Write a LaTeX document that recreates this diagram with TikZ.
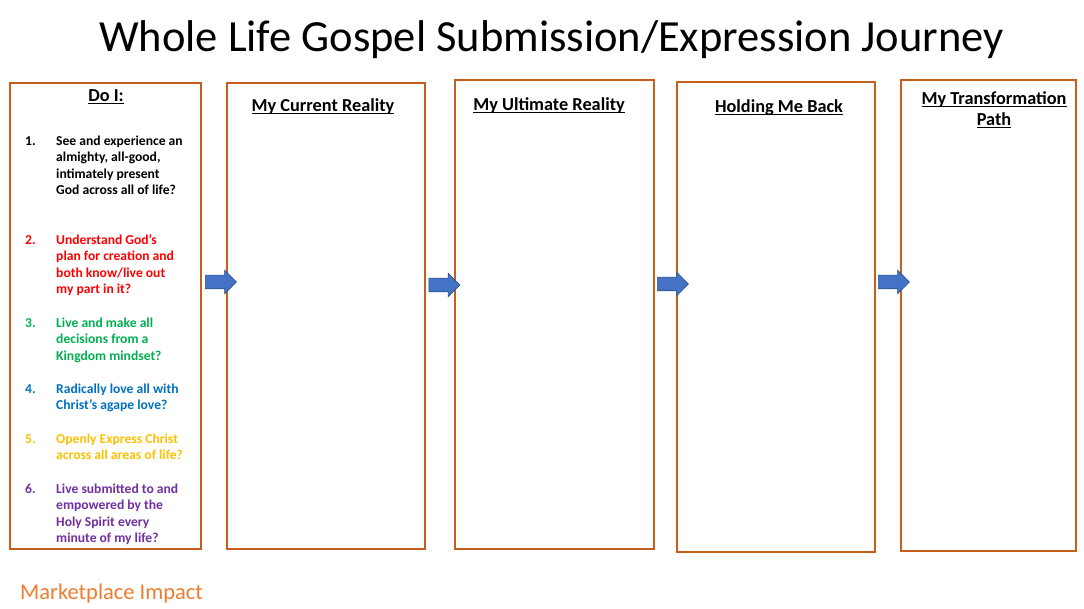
\documentclass[tikz,border=0pt]{standalone}
\usepackage{fontspec}
\setmainfont{Carlito}
\usetikzlibrary{shapes.arrows}
\definecolor{boxor}{RGB}{200,94,28}
\definecolor{arrfill}{RGB}{68,114,196}
\definecolor{arrline}{RGB}{47,82,143}
\definecolor{cred}{RGB}{255,0,0}
\definecolor{cgreen}{RGB}{0,176,80}
\definecolor{cblue}{RGB}{0,112,192}
\definecolor{cgold}{RGB}{255,192,0}
\definecolor{cpurple}{RGB}{112,48,160}
\definecolor{mporange}{RGB}{237,125,49}
\newcommand\myul[1]{\setbox0\hbox{#1}\rlap{\rule[-2.4pt]{\wd0}{1.1pt}}\box0}
\tikzset{
  col/.style={draw=boxor, line width=1.6pt},
  head/.style={font=\bfseries\fontsize{18.3}{21.5}\selectfont, inner sep=0, anchor=base},
  num/.style={font=\bfseries\fontsize{13.6}{16.4}\selectfont, inner sep=0, anchor=base west},
  item/.style={font=\bfseries\fontsize{13.6}{16.4}\selectfont, inner sep=0, anchor=base west, align=left},
  blockarrow/.style={single arrow, fill=arrfill, draw=arrline, line width=0.6pt,
    minimum height=31pt, minimum width=23pt, inner sep=6.5pt, single arrow head extend=5pt, single arrow tip angle=90, outer sep=0}
}
\begin{document}
\begin{tikzpicture}[x=1pt,y=-1pt]
\useasboundingbox (0,0) rectangle (1084,609);
\fill[white] (0,0) rectangle (1084,609);
\node[inner sep=0, anchor=base, font=\fontsize{44.5}{54}\selectfont] (title) at (551.5,52) {Whole Life Gospel Submission/Expression Journey};
% boxes
\draw[col] (10,83) rectangle (201,549);
\draw[col] (227,83) rectangle (425,549);
\draw[col] (455,80) rectangle (654,549);
\draw[col] (677,82) rectangle (875,552);
\draw[col] (901,80) rectangle (1076,551);
% headings
\node[head] (h1) at (106,101.5) {\myul{Do I:}};
\node[head] (h2) at (323,111.5) {\myul{My Current Reality}};
\node[head] (h3) at (549,111) {\myul{My Ultimate Reality}};
\node[head] (h4) at (779,113) {\myul{Holding Me Back}};
\node[head] (h5a) at (994,105) {\myul{My Transformation}};
\node[head] (h5b) at (994,126) {\myul{Path}};
% items (base anchor = baseline of last line)
\node[num] (n1) at (25,145.5) {1.};
\node[item] (t1) at (56,194.7) {See and experience an\\almighty, all-good,\\intimately present\\God across all of life?};
\node[num, text=cred] (n2) at (25,244.5) {2.};
\node[item, text=cred] (t2) at (56,293.7) {Understand God’s\\plan for creation and\\both know/live out\\my part in it?};
\node[num, text=cgreen] (n3) at (25,327.5) {3.};
\node[item, text=cgreen] (t3) at (56,360.3) {Live and make all\\decisions from a\\Kingdom mindset?};
\node[num, text=cblue] (n4) at (25,393.5) {4.};
\node[item, text=cblue] (t4) at (56,409.9) {Radically love all with\\Christ’s agape love?};
\node[num, text=cgold] (n5) at (25,443.5) {5.};
\node[item, text=cgold] (t5) at (56,459.9) {Openly Express Christ\\across all areas of life?};
\node[num, text=cpurple] (n6) at (25,493.5) {6.};
\node[item, text=cpurple] (t6) at (56,542.7) {Live submitted to and\\empowered by the\\Holy Spirit every\\minute of my life?};
% arrows
\node[blockarrow] (a1) at (217.5,282) {};
\node[blockarrow] (a2) at (441,285) {};
\node[blockarrow] (a3) at (669.5,284) {};
\node[blockarrow] (a4) at (890.5,282) {};
% footer
\node[inner sep=0, anchor=base west, text=mporange, font=\fontsize{22.5}{26}\selectfont] (mp) at (20,599) {Marketplace Impact};
\end{tikzpicture}
\end{document}
